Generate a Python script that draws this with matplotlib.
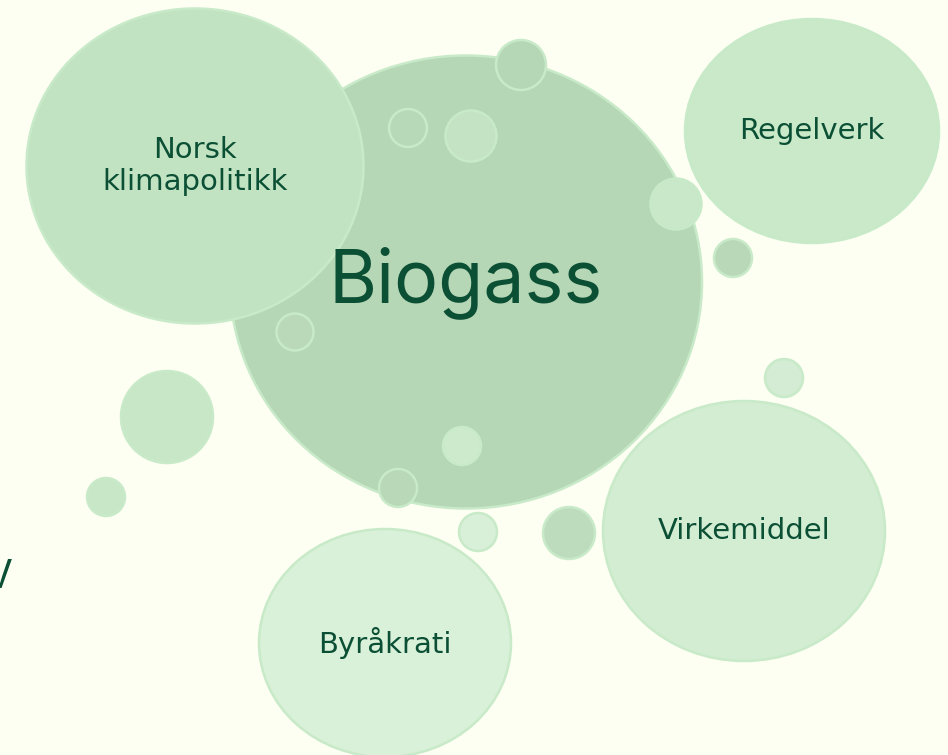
import matplotlib
matplotlib.use("Agg")
import matplotlib.pyplot as plt
from matplotlib.patches import Ellipse

plt.rcParams['font.family'] = ['Inter', 'DejaVu Sans']

# Labelled bubbles (pixel-space layout of the reference)
labels = ["Biogass", "Norsk\nklimapolitikk", "Regelverk", "Virkemiddel", "Byråkrati"]
label_x = [466, 195, 812, 744, 385]
label_y = [283, 166, 131, 531, 643]
label_w = [472, 337, 254, 282, 252]
label_h = [453, 315, 224, 260, 228]
label_fill = ["#b6d7b6", "#c2e3c2", "#c9e9c9", "#d3edd3", "#d9f0d9"]
label_size = [53, 21, 21, 21, 21]

# Small decorative bubbles
small_x = [521, 408, 471, 676, 733, 784, 295, 398, 462, 478, 569, 167, 106]
small_y = [65, 128, 136, 204, 258, 378, 332, 488, 446, 532, 533, 417, 497]
small_d = [50, 38, 51, 51, 38, 38, 37, 38, 38, 38, 52, 92, 38]
small_fill = ["#b6d7b6", "#b8d9b8", "#c4e3c4", "#c9e8c9", "#b8d8b8", "#d3ecd3",
              "#b9d9b9", "#b8d8b8", "#cdeacd", "#d8efd8", "#bddcbd", "#c7e7c7", "#c7e7c7"]

BG = "#fdfff3"
EDGE = "#c8eac8"
TEXT = "#0b4f35"

fig = plt.figure(figsize=(9.48, 7.55), dpi=100, facecolor=BG)
ax = fig.add_axes([0, 0, 1, 1])
ax.set_facecolor(BG)
ax.set_xlim(0, 948)
ax.set_ylim(755, 0)
ax.axis("off")

def bubble(x, y, w, h, fc, z):
    ax.add_patch(Ellipse((x, y), w, h, facecolor=fc, edgecolor=EDGE, lw=1.8, zorder=z))

# Biogass (bottom)
bubble(label_x[0], label_y[0] - 1, label_w[0], label_h[0], label_fill[0], 1)
# small ones
for x, y, d, fc in zip(small_x, small_y, small_d, small_fill):
    bubble(x, y, d, d, fc, 2)
# other labelled bubbles
for i in range(1, len(labels)):
    bubble(label_x[i], label_y[i], label_w[i], label_h[i], label_fill[i], 3)

for i, lab in enumerate(labels):
    fam = ['Inter', 'DejaVu Sans'] if i == 0 else ['DejaVu Sans']
    ax.text(label_x[i], label_y[i], lab, ha="center", va="center", fontsize=label_size[i],
            color=TEXT, zorder=5, linespacing=1.15, family=fam)

# cut-off text at left edge
ax.text(-2, 577, "V", ha="center", va="center", fontsize=28, color=TEXT, zorder=5)

fig.savefig("out.png", dpi=100, facecolor=BG)
